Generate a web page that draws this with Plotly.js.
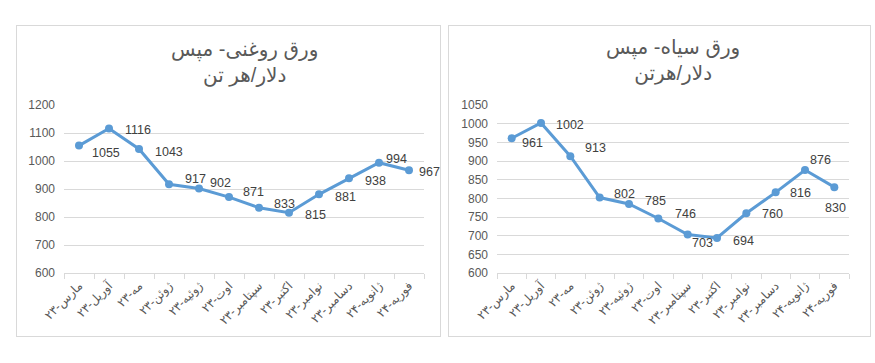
<!DOCTYPE html>
<html>
<head>
<meta charset="utf-8">
<script src="https://cdn.plot.ly/plotly-3.0.1.min.js"></script>
<style>
  body { margin:0; background:#fff; width:875px; height:363px; overflow:hidden; }
  .g { position:absolute; }
  .box { position:absolute; border:1px solid #d9d9d9; box-sizing:border-box; pointer-events:none; background:transparent; }
</style>
</head>
<body>
<div id="c1" class="g" style="left:16px;top:25px;width:425px;height:312px;"></div>
<div id="c2" class="g" style="left:448px;top:25px;width:423px;height:312px;"></div>
<div class="box" style="left:16px;top:25px;width:425px;height:312px;"></div>
<div class="box" style="left:448px;top:25px;width:423px;height:312px;"></div>
<script>
const months = ["مارس-۲۳","آوریل-۲۳","مه-۲۳","ژوئن-۲۳","ژوئیه-۲۳","اوت-۲۳","سپتامبر-۲۳","اکتبر-۲۳","نوامبر-۲۳","دسامبر-۲۳","ژانویه-۲۴","فوریه-۲۴"];
const oilySheet = [1055,1116,1043,917,902,871,833,815,881,938,994,967];
const blackSheet = [961,1002,913,802,785,746,703,694,760,816,876,830];
const title1 = "ورق روغنی- مپس<br>دلار/هر تن";
const title2 = "ورق سیاه- مپس<br>دلار/هرتن";

// label offsets (pixels) – styling only
const off1x = [11,14,14,14,9,12,13,14,14,14,5,8];
const off1y = [-7,-1,-3,5,5,5,4,-2,-3,-3,4,-2];
const off2x = [8,13,13,12,14,15,2,14,14,12,3,-11];
const off2y = [-5,-2,8,4,3,4,-8,-3,-1,-1,10,-21];

const FONT = "Liberation Sans, Arial, DejaVu Sans, sans-serif";
const lineColor = "#5b9bd5";

function make(id, vals, title, yr, dt, ml, mr, tshift, ox, oy) {
  const trace = {
    x: months, y: vals, type: "scatter", mode: "lines+markers",
    line: {color: lineColor, width: 3},
    marker: {color: lineColor, size: 8},
    hoverinfo: "none"
  };
  const ann = vals.map((v, i) => ({
    x: months[i], y: v, text: String(v), showarrow: false,
    xanchor: "left", yanchor: "middle",
    xshift: ox[i], yshift: oy[i],
    font: {family: FONT, size: 12.5, color: "#404040"}
  }));
  ann.push({
    xref: "paper", yref: "paper", x: 0.5, y: 1, xanchor: "center", yanchor: "middle",
    yshift: tshift, showarrow: false, text: title,
    font: {family: FONT, size: 20, color: "#595959"}
  });
  const layout = {
    width: parseInt(document.getElementById(id).style.width),
    height: 312,
    margin: {l: ml, r: mr, t: 80, b: 64},
    paper_bgcolor: "#fff", plot_bgcolor: "#fff",
    showlegend: false,
    xaxis: {
      type: "category", range: [-0.5, 11.5], tickangle: -45,
      tickson: "boundaries", ticks: "outside", ticklen: 5, tickcolor: "#d9d9d9",
      showline: true, linecolor: "#d9d9d9", linewidth: 1, showgrid: false,
      tickfont: {family: FONT, size: 12, color: "#595959"}, fixedrange: true
    },
    yaxis: {
      range: yr, dtick: dt, showgrid: true, gridcolor: "#d9d9d9", gridwidth: 1,
      zeroline: false, showline: false, ticks: "", ticklabelstandoff: 8,
      tickfont: {family: FONT, size: 12, color: "#595959"}, fixedrange: true
    },
    annotations: ann
  };
  Plotly.newPlot(id, [trace], layout, {displayModeBar: false, staticPlot: true});
}
make("c1", oilySheet, title1, [600, 1200], 100, 48, 17, 43, off1x, off1y);
make("c2", blackSheet, title2, [600, 1050], 50, 49, 22, 45, off2x, off2y);
</script>
</body>
</html>
